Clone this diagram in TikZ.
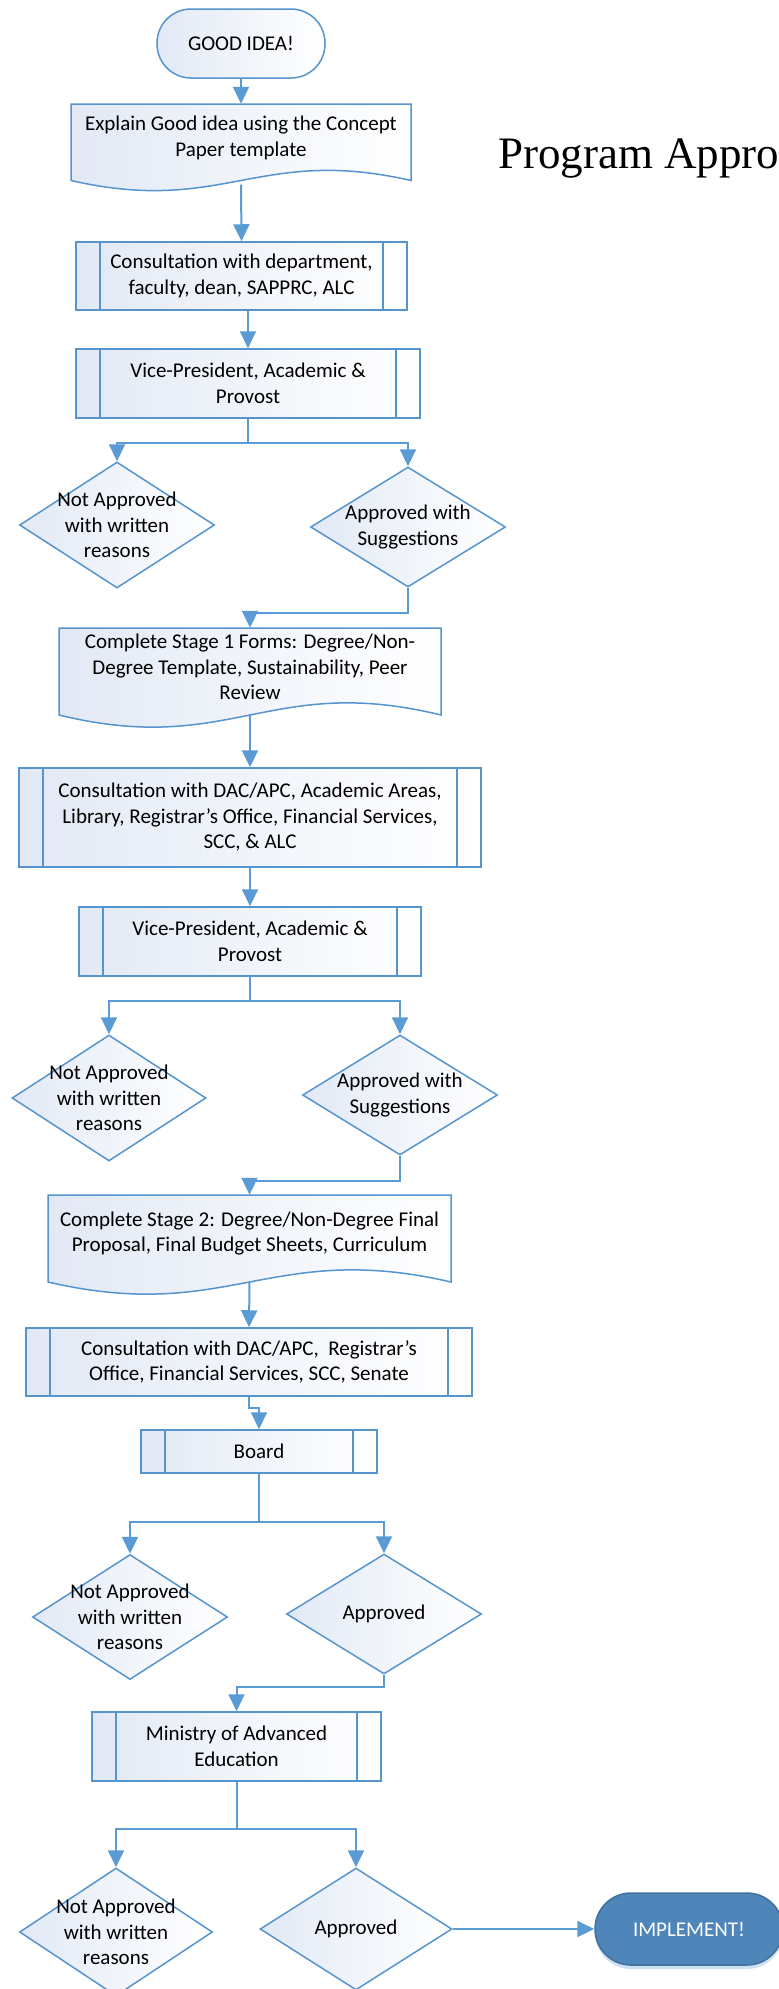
\documentclass[tikz,border=0pt]{standalone}
\usepackage{fontspec}
\setmainfont{Carlito}
\newfontfamily\titlefont{Liberation Serif}
\usetikzlibrary{shapes.geometric,arrows.meta,shadows}
\definecolor{lc}{HTML}{5B9BD5}
\definecolor{bc}{HTML}{5694CE}
\definecolor{fillc}{HTML}{E2E9F5}
\definecolor{implc}{HTML}{4F86BA}
\definecolor{implb}{HTML}{41719C}
\begin{document}
\begin{tikzpicture}[x=1pt,y=-1pt,
  txt/.style={font=\fontsize{21}{25.5}\selectfont, align=center, inner sep=0pt},
  term/.style={txt, rectangle, rounded corners=34pt, draw=bc, line width=1.5pt, left color=fillc, right color=white},
  proc/.style={txt, rectangle, draw=bc, line width=1.5pt, left color=fillc, right color=white,
    path picture={\draw[bc, line width=1.5pt]
      ([xshift=24pt]path picture bounding box.north west) -- ([xshift=24pt]path picture bounding box.south west)
      ([xshift=-24pt]path picture bounding box.north east) -- ([xshift=-24pt]path picture bounding box.south east);}},
  dia/.style={diamond, draw=bc, line width=1.5pt, left color=fillc, right color=white, inner sep=0pt},
  dtext/.style={txt},
  docshape/.style={draw=bc, line width=1.5pt, left color=fillc, right color=white},
  doctext/.style={txt, rectangle, draw=none},
  conn/.style={draw=lc, line width=2pt, -{Triangle[width=16pt,length=17pt]}}]
\useasboundingbox (0,0) rectangle (779,1989);

% document shapes (outlines)
\path[docshape] (71,104) -- (71,180.5) .. controls (224,215.5) and (258,145.5) .. (411,180.5) -- (411,104) -- cycle;
\path[docshape] (59,628) -- (59,715) .. controls (231,757) and (269,673) .. (441,715) -- (441,628) -- cycle;
\path[docshape] (48,1195) -- (48,1282) .. controls (229,1324) and (270,1240) .. (451,1282) -- (451,1195) -- cycle;

% title
\node[anchor=base west, inner sep=0pt, font=\titlefont\fontsize{45}{50}\selectfont] (title) at (498,168) {Program Appro};

% nodes
\node[term, minimum width=168pt, minimum height=69pt] (good) at (241,43.5) {GOOD IDEA!};
\node[doctext, minimum width=340pt, minimum height=68pt] (s0) at (241,138) {Explain Good idea using the Concept\\Paper template};
\node[proc, minimum width=331pt, minimum height=68pt] (c1) at (241.5,276) {Consultation with department,\\faculty, dean, SAPPRC, ALC};
\node[proc, minimum width=344pt, minimum height=69pt] (vp1) at (248,383.5) {Vice-President, Academic \&\\Provost};

\node[dia, minimum width=195pt, minimum height=126pt] (d1l) at (117,525) {};
\node[dtext] (t1l) at (d1l.center) {Not Approved\\with written\\reasons};
\node[dia, minimum width=195pt, minimum height=120pt] (d1r) at (408,527) {};
\node[dtext] (t1r) at (d1r.center) {Approved with\\Suggestions};

\node[doctext, minimum width=382pt, minimum height=78pt] (s1) at (250,667) {Complete Stage 1 Forms: Degree/Non-\\Degree Template, Sustainability, Peer\\Review};
\node[proc, minimum width=462pt, minimum height=99pt] (c2) at (250,817.5) {Consultation with DAC/APC, Academic Areas,\\Library, Registrar’s Office, Financial Services,\\SCC, \& ALC};
\node[proc, minimum width=342pt, minimum height=69pt] (vp2) at (250,941.5) {Vice-President, Academic \&\\Provost};

\node[dia, minimum width=194pt, minimum height=126pt] (d2l) at (109,1098) {};
\node[dtext] (t2l) at (d2l.center) {Not Approved\\with written\\reasons};
\node[dia, minimum width=195pt, minimum height=120pt] (d2r) at (400,1095) {};
\node[dtext] (t2r) at (d2r.center) {Approved with\\Suggestions};

\node[doctext, minimum width=403pt, minimum height=77pt] (s2) at (249.5,1233.5) {Complete Stage 2: Degree/Non-Degree Final\\Proposal, Final Budget Sheets, Curriculum};
\node[proc, minimum width=446pt, minimum height=68pt] (c3) at (249,1362) {Consultation with DAC/APC,~ Registrar’s\\Office, Financial Services, SCC, Senate};
\node[proc, minimum width=236pt, minimum height=43pt] (board) at (259,1451.5) {Board};

\node[dia, minimum width=195pt, minimum height=125pt] (d3l) at (130,1617) {};
\node[dtext] (t3l) at (d3l.center) {Not Approved\\with written\\reasons};
\node[dia, minimum width=195pt, minimum height=120pt] (d3r) at (384,1614) {};
\node[dtext] (t3r) at (d3r.center) {Approved};

\node[proc, minimum width=289pt, minimum height=69pt] (min) at (236.5,1746.5) {Ministry of Advanced\\Education};

\node[dia, minimum width=193pt, minimum height=128pt] (d4l) at (116,1932) {};
\node[dtext] (t4l) at (d4l.center) {Not Approved\\with written\\reasons};
\node[dia, minimum width=192pt, minimum height=122pt] (d4r) at (356,1929) {};
\node[dtext] (t4r) at (d4r.center) {Approved};

\node[txt, rectangle, rounded corners=36pt, minimum width=188pt, minimum height=72pt,
  fill=implc, draw=implb, line width=1.5pt, text=white,
  drop shadow={shadow xshift=0pt, shadow yshift=-4pt, fill=lc, opacity=0.3}] (impl) at (689,1929) {IMPLEMENT!};

% connectors
\draw[conn] (good) -- (s0);
\draw[conn] ([yshift=-12.5pt]s0.south) -- (c1.north);
\draw[conn] (vp1.north |- c1.south) -- (vp1.north);
\draw[conn] (vp1.south) -- ++(0,24) -| (d1l.north);
\draw[conn] (vp1.south) -- ++(0,24) -| (d1r.north);
\draw[conn] (d1r.south) -- ++(0,25) -| (s1.north);
\draw[conn] ([yshift=-9pt]s1.south) -- (c2.north);
\draw[conn] (c2.south) -- (vp2.north);
\draw[conn] (vp2.south) -- ++(0,24) -| (d2l.north);
\draw[conn] (vp2.south) -- ++(0,24) -| (d2r.north);
\draw[conn] (d2r.south) -- ++(0,25) -| (s2.north);
\draw[conn] ([yshift=-10pt]s2.south) -- (c3.north);
\draw[conn] (c3.south) -- ++(0,11) -| (board.north);
\draw[conn] (board.south) -- ++(0,48) -| (d3l.north);
\draw[conn] (board.south) -- ++(0,48) -| (d3r.north);
\draw[conn] (d3r.south) -- ++(0,12) -| (min.north);
\draw[conn] (min.south) -- ++(0,47) -| (d4l.north);
\draw[conn] (min.south) -- ++(0,47) -| (d4r.north);
\draw[conn] (d4r.east) -- (impl.west);
\end{tikzpicture}
\end{document}
